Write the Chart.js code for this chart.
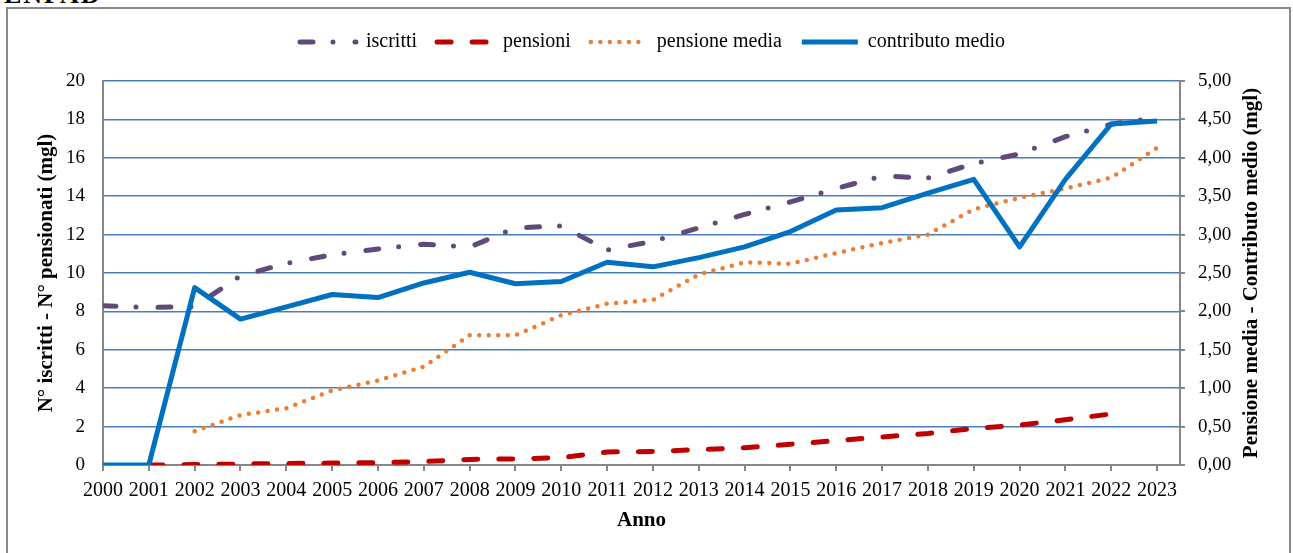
<!DOCTYPE html>
<html>
<head>
<meta charset="utf-8">
<script src="https://cdn.jsdelivr.net/npm/chart.js@4"></script>
<style>
  body { margin: 0; background: #fff; overflow: hidden; }
  #top { position: absolute; left: 4px; top: -20px; font: bold 26px 'Liberation Serif'; color: #000; letter-spacing: 2px; }
  #cornice { position: absolute; left: 6px; top: 7px; width: 1281px; height: 560px; border: 2px solid #8a8a8a; }
  #grafico { position: absolute; left: 0; top: 0; }
</style>
</head>
<body>
<div id="top">ENPAB</div>
<div id="cornice"></div>
<canvas id="grafico" width="1293" height="553"></canvas>
<script>
const anni = ['2000', '2001', '2002', '2003', '2004', '2005', '2006', '2007', '2008', '2009', '2010', '2011',
  '2012', '2013', '2014', '2015', '2016', '2017', '2018', '2019', '2020', '2021', '2022', '2023'];

// asse sinistro (mgl)
const iscritti = [8.3, 8.2, 8.25, 9.85, 10.5, 10.95, 11.25, 11.5, 11.35, 12.35, 12.45, 11.2,
  11.65, 12.35, 13.05, 13.7, 14.4, 15.05, 14.95, 15.7, 16.2, 17.1, 17.75, 18.1];
const pensioni = [null, 0, 0.02, 0.05, 0.08, 0.1, 0.12, 0.18, 0.29, 0.32, 0.38, 0.68,
  0.7, 0.8, 0.9, 1.08, 1.27, 1.46, 1.64, 1.9, 2.08, 2.36, 2.66, null];

// asse destro (mgl)
const pensioneMedia = [null, null, 0.44, 0.65, 0.74, 0.97, 1.1, 1.28, 1.69, 1.69, 1.95, 2.1,
  2.15, 2.48, 2.64, 2.62, 2.76, 2.89, 3.0, 3.33, 3.48, 3.6, 3.74, 4.13];
const contributoMedio = [0, 0, 2.31, 1.9, 2.06, 2.22, 2.18, 2.37, 2.51, 2.36, 2.39, 2.64,
  2.58, 2.7, 2.84, 3.04, 3.32, 3.35, 3.54, 3.72, 2.84, 3.72, 4.44, 4.48];

const tickSinistra = [0, 2, 4, 6, 8, 10, 12, 14, 16, 18, 20];
const tickDestra = [0, 0.5, 1, 1.5, 2, 2.5, 3, 3.5, 4, 4.5, 5];

const FONT = 'Liberation Serif';
const GRIGIO = '#868686';

function punti(valori) {
  return valori.map((v, i) => ({ x: Number(anni[i]), y: v }));
}

// titolo asse destro, letto dal basso verso l'alto come nell'originale
const titoloDestro = {
  id: 'titoloDestro',
  afterDraw(chart) {
    const ctx = chart.ctx;
    const area = chart.chartArea;
    ctx.save();
    ctx.translate(area.right + 72, (area.top + area.bottom) / 2);
    ctx.rotate(-Math.PI / 2);
    ctx.font = 'bold 21px ' + FONT;
    ctx.fillStyle = '#000';
    ctx.textAlign = 'center';
    ctx.textBaseline = 'middle';
    ctx.fillText('Pensione media - Contributo medio (mgl)', 0, 0);
    ctx.restore();
  }
};

const ctx = document.getElementById('grafico').getContext('2d');
new Chart(ctx, {
  type: 'line',
  data: {
    datasets: [
      {
        label: 'iscritti',
        data: punti(iscritti),
        xAxisID: 'x',
        yAxisID: 'y',
        borderColor: '#604A7B',
        borderWidth: 5,
        borderDash: [13, 20, 0, 22],
        borderCapStyle: 'round',
        order: 4
      },
      {
        label: 'pensioni',
        data: punti(pensioni),
        xAxisID: 'x',
        yAxisID: 'y',
        borderColor: '#C00000',
        borderWidth: 5,
        borderDash: [14, 21],
        borderCapStyle: 'round',
        order: 3
      },
      {
        label: 'pensione media',
        data: punti(pensioneMedia),
        xAxisID: 'x',
        yAxisID: 'y1',
        borderColor: '#ED7D31',
        borderWidth: 4.5,
        borderDash: [0, 9.5],
        borderCapStyle: 'round',
        order: 2
      },
      {
        label: 'contributo medio',
        data: punti(contributoMedio),
        xAxisID: 'x',
        yAxisID: 'y1',
        borderColor: '#0070C0',
        borderWidth: 5,
        borderCapStyle: 'butt',
        order: 1
      }
    ]
  },
  options: {
    responsive: false,
    animation: false,
    layout: { padding: { top: 12, left: 12, right: 0, bottom: 0 } },
    elements: {
      point: { radius: 0 },
      line: { tension: 0, fill: false, borderJoinStyle: 'round' }
    },
    scales: {
      x: {
        type: 'linear',
        min: 2000,
        max: 2023.5,
        afterFit: (s) => { s.height = 88; },
        ticks: {
          stepSize: 1,
          includeBounds: false,
          autoSkip: false,
          maxRotation: 0,
          padding: 8,
          color: '#000',
          font: { family: FONT, size: 20 },
          callback: (v, i) => anni[i]
        },
        grid: { drawOnChartArea: false, drawTicks: true, tickLength: 6, color: GRIGIO, lineWidth: 2 },
        border: { color: GRIGIO, width: 2 },
        title: {
          display: true,
          text: 'Anno',
          color: '#000',
          font: { family: FONT, size: 21, weight: 'bold' },
          padding: { top: 20, bottom: 20 }
        }
      },
      // spazio vuoto tra legenda e area del grafico
      spazio: {
        type: 'linear',
        axis: 'x',
        position: 'top',
        min: 0,
        max: 1,
        afterFit: (s) => { s.height = 19; },
        grid: { display: false },
        ticks: { display: false },
        border: { display: false }
      },
      y: {
        position: 'left',
        min: 0,
        max: 20,
        afterFit: (s) => { s.width = 91; },
        afterBuildTicks: (s) => { s.ticks = tickSinistra.map(v => ({ value: v })); },
        ticks: {
          padding: 18,
          color: '#000',
          font: { family: FONT, size: 19 }
        },
        grid: { color: '#4A7EBB', lineWidth: 1.5, drawTicks: false },
        border: { color: GRIGIO, width: 2 },
        title: {
          display: true,
          text: 'N° iscritti - N° pensionati (mgl)',
          color: '#000',
          font: { family: FONT, size: 21, weight: 'bold' },
          padding: { top: 22, bottom: 22 }
        }
      },
      y1: {
        position: 'right',
        min: 0,
        max: 5,
        afterFit: (s) => { s.width = 113; },
        afterBuildTicks: (s) => { s.ticks = tickDestra.map(v => ({ value: v })); },
        ticks: {
          padding: 13,
          color: '#000',
          font: { family: FONT, size: 19 },
          callback: (v) => v.toFixed(2).replace('.', ',')
        },
        grid: { drawOnChartArea: false, drawTicks: true, tickLength: 5, color: GRIGIO, lineWidth: 2 },
        border: { color: GRIGIO, width: 2 }
      }
    },
    plugins: {
      legend: {
        position: 'top',
        labels: {
          usePointStyle: true,
          pointStyle: 'line',
          pointStyleWidth: 56,
          padding: 20,
          color: '#000',
          font: { family: FONT, size: 20 },
          sort: (a, b) => a.datasetIndex - b.datasetIndex,
          // il campione in legenda usa lo stile della linea (tratteggio e terminali)
          generateLabels: (chart) => {
            const voci = Chart.defaults.plugins.legend.labels.generateLabels(chart);
            voci.forEach((voce) => {
              const ds = chart.data.datasets[voce.datasetIndex];
              voce.lineDash = ds.borderDash || [];
              voce.lineCap = ds.borderCapStyle || 'butt';
              voce.lineWidth = ds.borderWidth;
              voce.strokeStyle = ds.borderColor;
            });
            return voci;
          }
        }
      },
      tooltip: { enabled: false }
    }
  },
  plugins: [titoloDestro]
});
</script>
</body>
</html>
